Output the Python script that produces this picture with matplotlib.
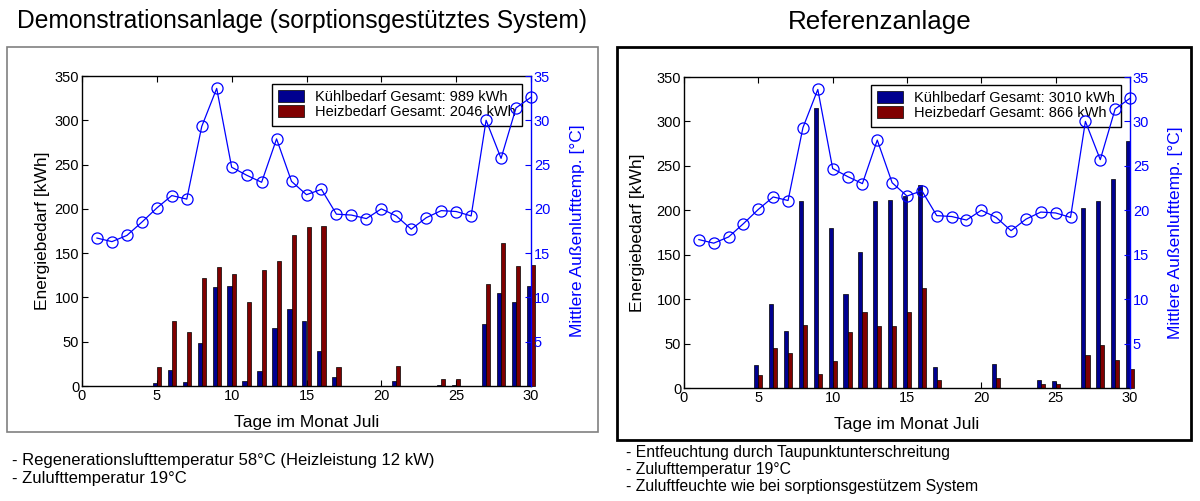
import matplotlib
matplotlib.use("Agg")
import matplotlib.pyplot as plt
from matplotlib.patches import Rectangle
import numpy as np

plt.rcParams['font.family'] = ['Liberation Sans', 'DejaVu Sans']

# ---------------- data ----------------
days = list(range(1, 31))
temp = [16.7, 16.3, 17.0, 18.5, 20.1, 21.5, 21.1, 29.3, 33.6, 24.7,
        23.8, 23.0, 27.9, 23.1, 21.6, 22.2, 19.4, 19.3, 18.9, 20.0,
        19.2, 17.7, 19.0, 19.8, 19.7, 19.2, 30.0, 25.7, 31.4, 32.6]

demo_cool = [0, 0, 0, 0, 3, 18, 5, 49, 112, 113,
             6, 17, 66, 87, 73, 40, 10, 0, 0, 0,
             6, 0, 0, 1, 1, 0, 70, 105, 95, 113]
demo_heat = [0, 0, 0, 0, 22, 73, 61, 122, 134, 126,
             95, 131, 141, 171, 179, 181, 22, 0, 0, 0,
             23, 0, 0, 8, 8, 0, 115, 161, 135, 137]

ref_cool = [0, 0, 0, 0, 26, 94, 64, 211, 315, 180,
            106, 153, 211, 212, 216, 229, 24, 0, 0, 0,
            27, 0, 0, 9, 8, 0, 203, 210, 235, 278]
ref_heat = [0, 0, 0, 0, 15, 45, 39, 71, 16, 30,
            63, 85, 70, 70, 85, 113, 9, 0, 0, 0,
            11, 0, 0, 5, 5, 0, 37, 48, 32, 21]

demo_legend = ["Kühlbedarf Gesamt: 989 kWh", "Heizbedarf Gesamt: 2046 kWh"]
ref_legend = ["Kühlbedarf Gesamt: 3010 kWh", "Heizbedarf Gesamt: 866 kWh"]

x_ticks = [0, 5, 10, 15, 20, 25, 30]
y_ticks = [0, 50, 100, 150, 200, 250, 300, 350]
t_ticks = [5, 10, 15, 20, 25, 30, 35]

demo_title = "Demonstrationsanlage (sorptionsgestütztes System)"
ref_title = "Referenzanlage"
demo_notes = ["- Regenerationslufttemperatur 58°C (Heizleistung 12 kW)",
              "- Zulufttemperatur 19°C"]
ref_notes = ["- Entfeuchtung durch Taupunktunterschreitung",
             "- Zulufttemperatur 19°C",
             "- Zuluftfeuchte wie bei sorptionsgestützem System"]

# ---------------- layout ----------------
W, H = 1200, 501
fig = plt.figure(figsize=(W / 100, H / 100), dpi=100)


def rect(x0, y0, x1, y1):
    return [x0 / W, 1 - y1 / H, (x1 - x0) / W, (y1 - y0) / H]


COOL = '#00008F'
HEAT = '#800000'
BLUE = '#0000FF'
TICKFS = 10.5
LABELFS = 12.5


def panel(box, cool, heat, legend_labels, ylab_x):
    ax = fig.add_axes(rect(*box))
    d = np.array(days)
    w = 0.28
    ax.bar(d - 0.14, cool, width=w, color=COOL, edgecolor='k', linewidth=0.5,
           label=legend_labels[0], clip_on=False, zorder=2)
    ax.bar(d + 0.14, heat, width=w, color=HEAT, edgecolor='k', linewidth=0.5,
           label=legend_labels[1], clip_on=False, zorder=2)
    ax.set_xlim(0, 30)
    ax.set_ylim(0, 350)
    ax.set_xticks(x_ticks)
    ax.set_yticks(y_ticks)
    ax.tick_params(direction='in', top=True, right=False, length=4,
                   labelsize=TICKFS, pad=2)
    ax.spines['right'].set_visible(False)
    for s in ['left', 'top', 'bottom']:
        ax.spines[s].set_linewidth(1.0)
    ax.set_xlabel("Tage im Monat Juli", fontsize=LABELFS)
    ax.xaxis.set_label_coords(0.5, -0.092)
    ax.set_ylabel("Energiebedarf [kWh]", fontsize=LABELFS)
    ax.yaxis.set_label_coords(ylab_x, 0.5)
    leg = ax.legend(loc='upper right', bbox_to_anchor=(0.98, 0.975),
                    borderaxespad=0, fancybox=False, edgecolor='k',
                    framealpha=1, fontsize=10.5, handlelength=1.8,
                    handleheight=0.9, labelspacing=0.05, borderpad=0.45,
                    handletextpad=0.7)
    leg.get_frame().set_linewidth(1.0)

    ax2 = ax.twinx()
    ax2.plot(days, temp, color=BLUE, linewidth=0.9, marker='o',
             markersize=8, markerfacecolor='none', markeredgecolor=BLUE,
             markeredgewidth=0.9, clip_on=False)
    ax2.set_ylim(0, 35)
    ax2.set_xlim(0, 30)
    ax2.set_yticks(t_ticks)
    ax2.tick_params(direction='in', length=4, colors=BLUE, labelsize=TICKFS,
                    pad=2)
    for s in ['left', 'top', 'bottom']:
        ax2.spines[s].set_visible(False)
    ax2.spines['right'].set_color(BLUE)
    ax2.spines['right'].set_linewidth(1.0)
    ax2.set_ylabel("Mittlere Außenlufttemp. [°C]", color=BLUE,
                   fontsize=LABELFS, rotation=90)
    ax2.yaxis.set_label_coords(1.086, 0.5)
    return ax, ax2


panel((82, 76, 531, 386), demo_cool, demo_heat, demo_legend, -0.072)
panel((684, 77, 1130, 388), ref_cool, ref_heat, ref_legend, -0.088)

# panel frames
fig.patches.append(Rectangle((7 / W, 1 - 432 / H), (598 - 7) / W,
                             (432 - 47) / H, transform=fig.transFigure,
                             fill=False, edgecolor='#808080', linewidth=1.2))
fig.patches.append(Rectangle((617 / W, 1 - 440 / H), (1191 - 617) / W,
                             (440 - 47) / H, transform=fig.transFigure,
                             fill=False, edgecolor='k', linewidth=2.0))

# titles
fig.text(17 / W, 1 - 21 / H, demo_title, fontsize=17.7, ha='left', va='center')
fig.text(880 / W, 1 - 22 / H, ref_title, fontsize=18.7, ha='center',
         va='center')

# notes
for i, t in enumerate(demo_notes):
    fig.text(12 / W, 1 - (461 + 17 * i) / H, t, fontsize=12, ha='left',
             va='center')
for i, t in enumerate(ref_notes):
    fig.text(626 / W, 1 - (452 + 17.5 * i) / H, t, fontsize=11.3, ha='left',
             va='center')

fig.savefig("out.png", dpi=100)
